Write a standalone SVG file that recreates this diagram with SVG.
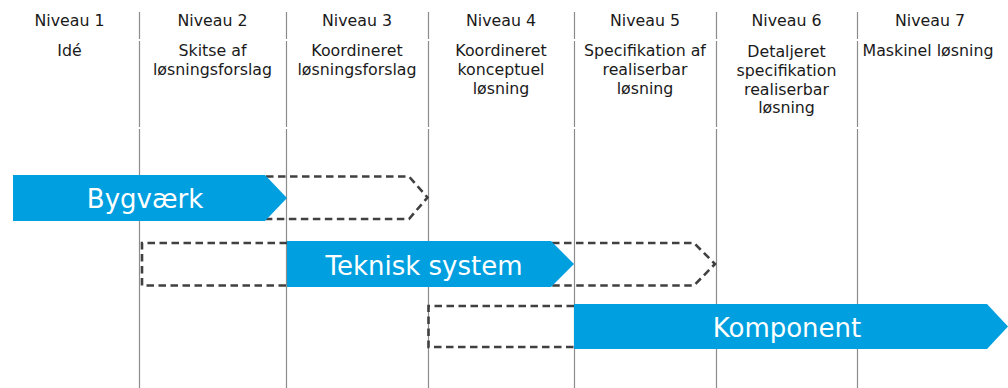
<svg xmlns="http://www.w3.org/2000/svg" width="1008" height="388" viewBox="0 0 1008 388">
  <style>
    .grid { stroke: #8c8c8c; stroke-width: 1.2; fill: none; }
    .hdr { font-family: "DejaVu Sans", Verdana, sans-serif; font-size: 15.8px; fill: #1a1a1a; text-anchor: middle; }
    .bar { fill: #009fe0; }
    .ghost { fill: none; stroke: #404040; stroke-width: 2.6; stroke-dasharray: 7.5 4.5; }
    .barlbl { font-family: "DejaVu Sans", Verdana, sans-serif; font-size: 26px; fill: #ffffff; text-anchor: middle; }
  </style>
  <rect width="1008" height="388" fill="#ffffff"/>

  <!-- column separators -->
  <g id="grid">
    <path class="grid" d="M139.5,12V39M139.5,41V127M139.5,129V388"/>
    <path class="grid" d="M286.5,12V39M286.5,41V127M286.5,129V388"/>
    <path class="grid" d="M428.5,12V39M428.5,41V127M428.5,129V388"/>
    <path class="grid" d="M574.5,12V39M574.5,41V127M574.5,129V388"/>
    <path class="grid" d="M716.5,12V39M716.5,41V127M716.5,129V388"/>
    <path class="grid" d="M857.5,12V39M857.5,41V127M857.5,129V388"/>
  </g>

  <!-- level headers -->
  <g id="level1">
    <text class="hdr" x="69.5" y="26">Niveau 1</text>
    <text class="hdr" x="69.5" y="56">Idé</text>
  </g>
  <g id="level2">
    <text class="hdr" x="212.5" y="26">Niveau 2</text>
    <text class="hdr" x="212.5" y="56">Skitse af</text>
    <text class="hdr" x="212.5" y="75">løsningsforslag</text>
  </g>
  <g id="level3">
    <text class="hdr" x="357" y="26">Niveau 3</text>
    <text class="hdr" x="357" y="56">Koordineret</text>
    <text class="hdr" x="357" y="75">løsningsforslag</text>
  </g>
  <g id="level4">
    <text class="hdr" x="501" y="26">Niveau 4</text>
    <text class="hdr" x="501" y="56">Koordineret</text>
    <text class="hdr" x="501" y="75">konceptuel</text>
    <text class="hdr" x="501" y="94">løsning</text>
  </g>
  <g id="level5">
    <text class="hdr" x="645" y="26">Niveau 5</text>
    <text class="hdr" x="645" y="56">Specifikation af</text>
    <text class="hdr" x="645" y="75">realiserbar</text>
    <text class="hdr" x="645" y="94">løsning</text>
  </g>
  <g id="level6">
    <text class="hdr" x="786.5" y="26">Niveau 6</text>
    <text class="hdr" x="786.5" y="57">Detaljeret</text>
    <text class="hdr" x="786.5" y="76">specifikation</text>
    <text class="hdr" x="786.5" y="94.5">realiserbar</text>
    <text class="hdr" x="786.5" y="113">løsning</text>
  </g>
  <g id="level7">
    <text class="hdr" x="930" y="26">Niveau 7</text>
    <text class="hdr" x="928" y="56">Maskinel løsning</text>
  </g>

  <!-- optional extents (dashed) -->
  <g id="extents">
    <path class="ghost" d="M266,176.5H409L427.5,197.5L409,219H266"/>
    <path class="ghost" d="M287,243H142V285.5H287"/>
    <path class="ghost" d="M552,243H694L715,264L694,285.5H552"/>
    <path class="ghost" d="M574,306H428.5V347H574"/>
  </g>

  <!-- phase bars -->
  <g id="bygvaerk">
    <path class="bar" d="M13,175H265L287,198L265,221H13Z"/>
    <text class="barlbl" x="145" y="208">Bygværk</text>
  </g>
  <g id="teknisk-system">
    <path class="bar" d="M287,241H551L574,264L551,287H287Z"/>
    <text class="barlbl" x="424" y="275">Teknisk system</text>
  </g>
  <g id="komponent">
    <path class="bar" d="M574,304H987L1008,326.5L987,349H574Z"/>
    <text class="barlbl" x="787" y="337">Komponent</text>
  </g>
</svg>
